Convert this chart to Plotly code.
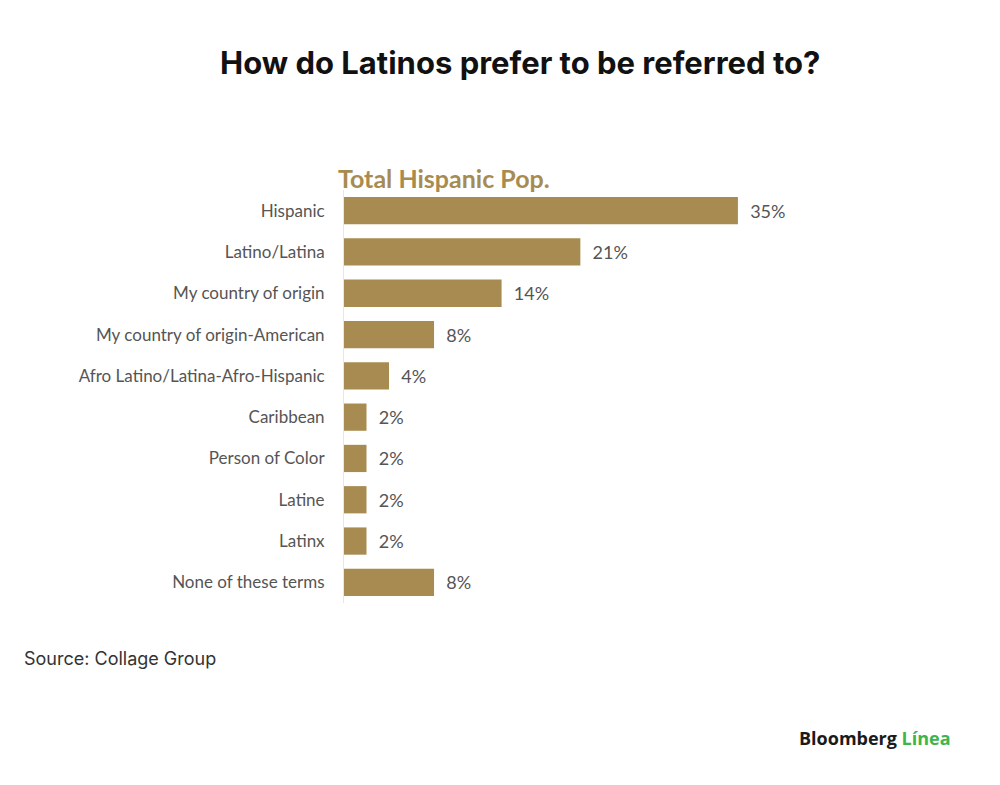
import plotly.graph_objects as go

# data
categories = [
    "Hispanic",
    "Latino/Latina",
    "My country of origin",
    "My country of origin-American",
    "Afro Latino/Latina-Afro-Hispanic",
    "Caribbean",
    "Person of Color",
    "Latine",
    "Latinx",
    "None of these terms",
]
shares = [35, 21, 14, 8, 4, 2, 2, 2, 2, 8]
share_labels = [f"  {v}%" for v in shares]

GOLD = "#a88b50"
GREY = "#555555"

# page has an 8px body margin, so margins are nudged to compensate
L, R, T, B = 336, 108, 182, 190
W, H = 1000, 785
OFF = 8

fig = go.Figure(
    go.Bar(
        x=shares,
        y=categories,
        orientation="h",
        marker=dict(color=GOLD, line=dict(width=0)),
        text=share_labels,
        textposition="outside",
        textfont=dict(family="Lato", size=18, color=GREY),
        cliponaxis=False,
        hoverinfo="skip",
    )
)

fig.update_layout(
    width=W,
    height=H,
    paper_bgcolor="white",
    plot_bgcolor="white",
    margin=dict(l=L, r=R, t=T, b=B),
    bargap=0.34,
    showlegend=False,
    xaxis=dict(
        range=[0, 49.4],
        showgrid=False,
        zeroline=False,
        showticklabels=False,
        showline=False,
        fixedrange=True,
    ),
    yaxis=dict(
        autorange="reversed",
        showgrid=False,
        zeroline=False,
        showline=True,
        linecolor="#e6e6e6",
        linewidth=1,
        ticks="",
        ticklabelstandoff=15,
        tickfont=dict(family="Lato", size=17, color=GREY),
        fixedrange=True,
    ),
)

pw, ph = W - L - R, H - T - B


def px_to_paper(xp, yp):
    # xp, yp are screenshot pixels
    return (xp - OFF - L) / pw, (H - B - (yp - OFF)) / ph


tx, ty = px_to_paper(520, 62)
sx, sy = px_to_paper(22, 658)
bx, by = px_to_paper(953, 738)
hx, hy = px_to_paper(336, 178)

fig.update_layout(
    annotations=[
        dict(
            text="<b>How do Latinos prefer to be referred to?</b>",
            x=tx, y=ty, xref="paper", yref="paper",
            xanchor="center", yanchor="middle",
            showarrow=False,
            font=dict(family="Inter", size=31, color="#111111"),
        ),
        dict(
            text="<b>Total Hispanic Pop.</b>",
            x=hx, y=hy, xref="paper", yref="paper",
            xanchor="left", yanchor="middle",
            showarrow=False,
            font=dict(family="Lato", size=25, color=GOLD),
        ),
        dict(
            text="Source: Collage Group",
            x=sx, y=sy, xref="paper", yref="paper",
            xanchor="left", yanchor="middle",
            showarrow=False,
            font=dict(family="Inter", size=18, color="#333333"),
        ),
        dict(
            text="<b>Bloomberg</b> <span style='color:#3db54a'><b>Línea</b></span>",
            x=bx, y=by, xref="paper", yref="paper",
            xanchor="right", yanchor="middle",
            showarrow=False,
            font=dict(family="Open Sans", size=18, color="#1a1a1a"),
        ),
    ],
)

fig.write_html("out.html")
